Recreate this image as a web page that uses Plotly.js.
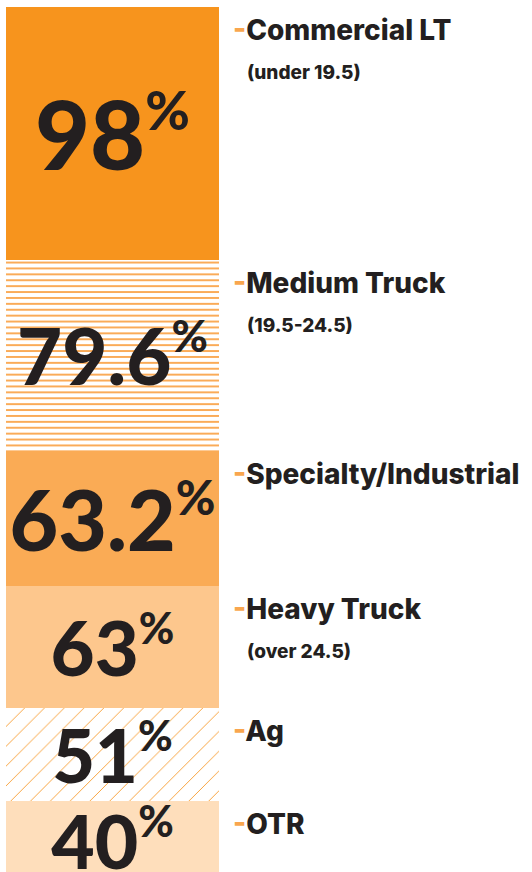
<!DOCTYPE html>
<html>
<head>
<meta charset="utf-8">
<script src="https://cdn.plot.ly/plotly-3.0.1.min.js"></script>
<style>
  html, body { margin: 0; padding: 0; background: #ffffff; }
  #chart { width: 532px; height: 872px; }
</style>
</head>
<body>
<div id="chart"></div>
<script>
// ---- data ----
var categories  = ['Commercial LT', 'Medium Truck', 'Specialty/Industrial', 'Heavy Truck', 'Ag', 'OTR'];
var subLabels   = ['(under 19.5)', '(19.5-24.5)', '', '(over 24.5)', '', ''];
var values      = [98, 79.6, 63.2, 63, 51, 40];
var bandHeights = [252.5, 191, 135, 122, 93, 78];

// ---- styles ----
var fills     = ['#F7941D', '#FFFFFF', '#FAAB55', '#FDC78D', '#FFFFFF', '#FEDEBB'];
var patterns  = [
  null,
  {shape: '-', fgcolor: '#FAAB58', bgcolor: '#FFFFFF', size: 5.9, solidity: 0.33, fillmode: 'replace'},
  null, null,
  {shape: '/', fgcolor: '#F7941D', bgcolor: '#FFFFFF', size: 14, solidity: 0.06, fillmode: 'replace'},
  null
];
var textSizes = [95, 78, 84, 76, 74, 75];
var dark = '#231F20';
var dashColor = '#F9A64E';

var traces = categories.map(function (c, i) {
  var marker = {color: fills[i], line: {width: 0}};
  if (patterns[i]) marker.pattern = patterns[i];
  var pct = Math.round(textSizes[i] * 0.57);
  return {
    type: 'bar',
    name: c,
    x: [0],
    y: [bandHeights[i]],
    width: [1],
    marker: marker,
    text: [values[i] + '<sup><span style="font-size:' + pct + 'px">%</span></sup>'],
    textposition: 'inside',
    insidetextanchor: 'middle',
    constraintext: 'none',
    textangle: 0,
    textfont: {family: 'Lato, sans-serif', size: textSizes[i], color: dark, weight: 900},
    hoverinfo: 'skip',
    showlegend: false
  };
});

var annotations = [];
var start = 0;
categories.forEach(function (c, i) {
  annotations.push({
    xref: 'paper', yref: 'y',
    x: 231 / 532, y: start,
    xanchor: 'left', yanchor: 'top',
    yshift: -4,
    showarrow: false,
    align: 'left',
    text: '<span style="color:' + dashColor + '">-</span>' + c,
    font: {family: 'Inter, Lato, sans-serif', size: 28, color: dark, weight: 800}
  });
  if (subLabels[i]) {
    annotations.push({
      xref: 'paper', yref: 'y',
      x: 245 / 532, y: start,
      xanchor: 'left', yanchor: 'top',
      yshift: -52,
      showarrow: false,
      align: 'left',
      text: subLabels[i],
      font: {family: 'Inter, Lato, sans-serif', size: 19, color: dark, weight: 800}
    });
  }
  start += bandHeights[i];
});

var layout = {
  width: 532, height: 872,
  margin: {l: 0, r: 0, t: 0, b: 0, pad: 0},
  paper_bgcolor: '#FFFFFF', plot_bgcolor: '#FFFFFF',
  barmode: 'stack',
  bargap: 0,
  xaxis: {range: [-0.528, 1.97], visible: false, fixedrange: true},
  yaxis: {range: [865, -7], visible: false, fixedrange: true},
  annotations: annotations,
  showlegend: false
};

Plotly.newPlot('chart', traces, layout, {displayModeBar: false, staticPlot: true});
</script>
</body>
</html>
